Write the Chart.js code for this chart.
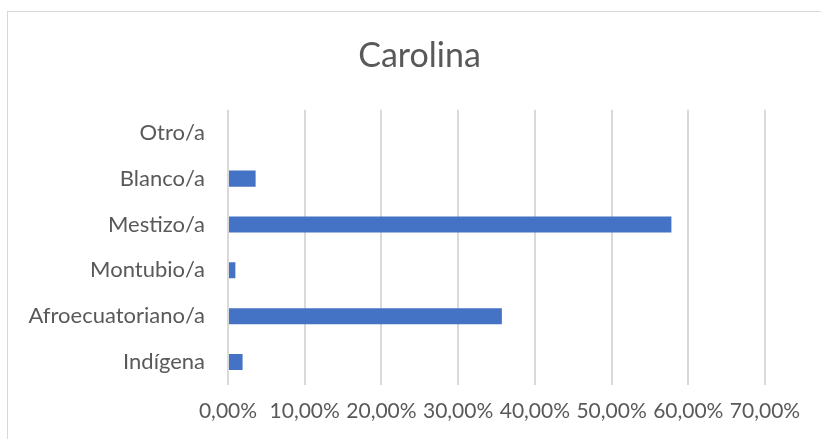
<!DOCTYPE html>
<html>
<head>
<meta charset="utf-8">
<script src="https://cdn.jsdelivr.net/npm/chart.js@4.4.0/dist/chart.umd.min.js"></script>
<style>
  html, body { margin: 0; padding: 0; background: #fff; overflow: hidden; width: 821px; height: 439px; }
  .frame {
    position: absolute; left: 7px; top: 11px;
    width: 823px; height: 440px;
    border-left: 1px solid #d9d9d9; border-top: 1px solid #d9d9d9;
  }
</style>
</head>
<body>
<div class="frame"><canvas id="barChart" width="823" height="440"></canvas></div>
<script>
  // datos del gráfico
  const categorias = ['Otro/a', 'Blanco/a', 'Mestizo/a', 'Montubio/a', 'Afroecuatoriano/a', 'Indígena'];
  const porcentajes = [0, 3.6, 57.8, 0.96, 35.7, 1.9];
  const ticksX = [0, 10, 20, 30, 40, 50, 60, 70];

  const gris = '#595959';
  const fuente = 'Lato, "Open Sans", sans-serif';

  const ctx = document.getElementById('barChart');

  new Chart(ctx, {
    type: 'bar',
    data: {
      labels: categorias,
      datasets: [{
        label: 'Carolina',
        data: porcentajes,
        backgroundColor: '#4472C4',
        borderWidth: 0,
        categoryPercentage: 1.0,
        barPercentage: 0.35
      }]
    },
    options: {
      indexAxis: 'y',
      responsive: false,
      animation: false,
      layout: { padding: { top: 14, right: 0, bottom: 0, left: 0 } },
      scales: {
        x: {
          min: 0,
          max: 70,
          afterBuildTicks: (scale) => { scale.ticks = ticksX.map(v => ({ value: v })); },
          afterFit: (scale) => { scale.height = 67; },
          ticks: {
            color: gris,
            padding: 14,
            maxRotation: 0,
            autoSkip: false,
            font: { family: fuente, size: 21 },
            callback: (v) => v.toFixed(2).replace('.', ',') + '%'
          },
          grid: { color: '#d9d9d9', lineWidth: 2, drawTicks: false },
          border: { display: false }
        },
        y: {
          afterFit: (scale) => { scale.width = 220; },
          ticks: {
            color: gris,
            padding: 15,
            font: { family: fuente, size: 22 }
          },
          grid: { display: false },
          border: { display: false }
        },
        // margen vacío a la derecha del área de barras
        margenDer: {
          type: 'category',
          position: 'right',
          afterFit: (scale) => { scale.width = 66; },
          ticks: { display: false },
          grid: { display: false },
          border: { display: false }
        }
      },
      plugins: {
        legend: { display: false },
        tooltip: { enabled: false },
        title: {
          display: true,
          text: 'Carolina',
          color: gris,
          font: { family: fuente, size: 34, weight: 'normal' },
          padding: { top: 10, bottom: 33 }
        }
      }
    }
  });
</script>
</body>
</html>
